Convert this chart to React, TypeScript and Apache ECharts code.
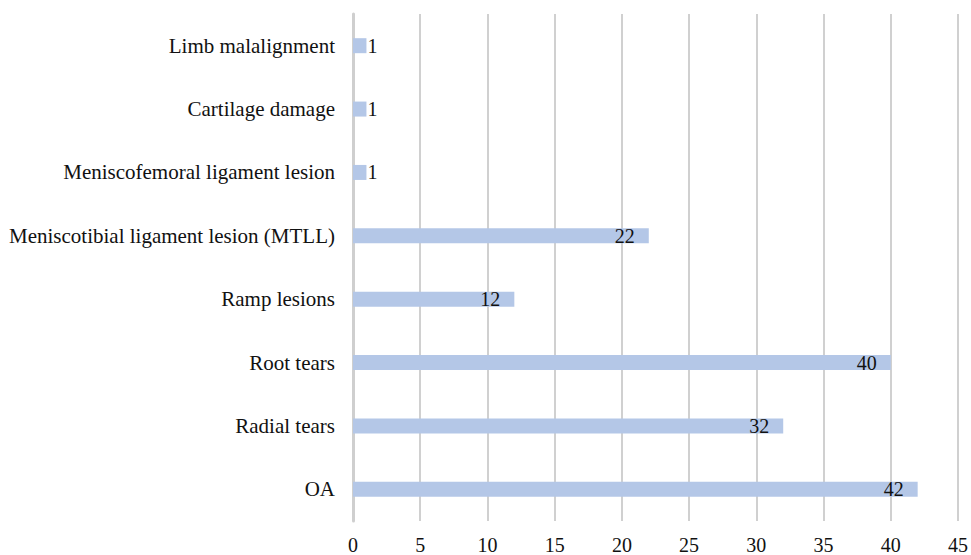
import React, { useEffect, useRef } from "react";
import * as echarts from "echarts";

const categories = [
  "OA",
  "Radial tears",
  "Root tears",
  "Ramp lesions",
  "Meniscotibial ligament lesion (MTLL)",
  "Meniscofemoral ligament lesion",
  "Cartilage damage",
  "Limb malalignment",
];
const values = [42, 32, 40, 12, 22, 1, 1, 1];
const xTicks = { min: 0, max: 45, interval: 5 };

const FONT = "'Liberation Serif', 'Times New Roman', serif";

export default function App() {
  const ref = useRef<HTMLDivElement>(null);
  useEffect(() => {
    if (!ref.current) return;
    const chart = echarts.init(ref.current, undefined, { renderer: "svg" });
    chart.setOption({
      animation: false,
      grid: { left: 353, right: 8, top: 14, bottom: 33, containLabel: false },
      xAxis: {
        type: "value",
        min: xTicks.min,
        max: xTicks.max,
        interval: xTicks.interval,
        axisLine: { show: false },
        axisTick: { show: false },
        axisLabel: { color: "#111", fontFamily: FONT, fontSize: 20, margin: 14 },
        splitLine: { show: true, lineStyle: { color: "#d0d0d0", width: 2 } },
      },
      yAxis: {
        type: "category",
        data: categories,
        axisLine: { show: true, lineStyle: { color: "#cfcfcf", width: 3 } },
        axisTick: { show: false },
        axisLabel: { color: "#111", fontFamily: FONT, fontSize: 21, margin: 18 },
      },
      series: [
        {
          type: "bar",
          data: values.map((v) => ({
            value: v,
            label:
              v < 3
                ? { position: "right", distance: 1 }
                : { position: "insideRight", distance: 14 },
          })),
          barWidth: 15,
          itemStyle: { color: "#b4c7e7" },
          label: {
            show: true,
            color: "#111",
            fontFamily: FONT,
            fontSize: 20,
          },
        },
      ],
    });
    return () => chart.dispose();
  }, []);
  return <div ref={ref} style={{ width: 971, height: 555, position: "absolute", left: 0, top: 0 }} />;
}
